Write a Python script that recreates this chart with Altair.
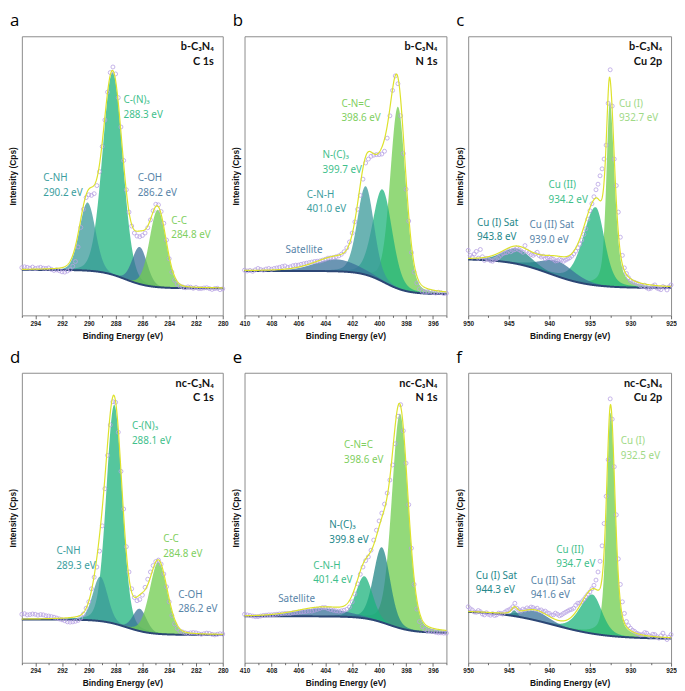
import altair as alt
import numpy as np
import pandas as pd

# ---------------- measured spectra (read off the figure) ----------------
# intensity: arbitrary units, 0 = bottom of plot frame, 100 = top of frame
# energies run from the start value downwards in equal steps
A_START, A_STEP = 295.0, 0.2
A_Y = [17.1, 17.4, 17.2, 16.9, 17.3, 16.8, 17.0, 17.2, 16.9, 16.8,
       17.0, 16.5, 16.1, 16.3, 16.0, 15.6, 15.5, 15.9, 16.4, 17.6,
       19.3, 24.5, 31.5, 38.0, 42.2, 43.2, 43.0, 43.6, 46.5, 51.5,
       60.5, 70.0, 80.0, 87.0, 89.0, 86.5, 78.0, 67.5, 55.5, 45.0,
       37.0, 32.0, 29.5, 28.4, 28.2, 28.6, 29.5, 31.4, 34.2, 37.5,
       39.8, 39.6, 37.2, 33.0, 27.0, 20.3, 15.5, 12.6, 11.2, 10.5,
       10.2, 9.9, 10.2, 10.1, 9.7, 10.0, 9.6, 9.6, 9.8, 9.9,
       9.6, 9.3, 9.6, 9.7, 9.2, 9.5]

B_START, B_STEP = 410.0, 0.2
B_Y = [16.2, 15.9, 16.1, 15.8, 16.3, 16.8, 16.4, 16.2, 16.6, 16.8,
       16.5, 16.8, 17.0, 17.2, 17.5, 17.7, 17.2, 17.4, 17.8, 18.0,
       18.0, 18.3, 18.5, 18.7, 18.9, 19.1, 19.3, 19.4, 19.5, 19.8,
       20.1, 20.5, 20.6, 20.7, 21.0, 21.3, 21.9, 22.8, 24.2, 26.3,
       29.5, 33.5, 38.0, 43.0, 48.8, 54.6, 56.0, 57.0, 57.4, 57.6,
       57.6, 57.8, 58.8, 63.5, 71.5, 80.6, 85.8, 83.0, 71.5, 58.0,
       45.2, 33.8, 22.5, 15.5, 11.6, 9.5, 8.6, 8.4, 8.5, 8.6,
       8.2, 8.0, 8.3, 8.1, 7.8, 7.9]

C_START, C_STEP = 950.0, 0.25
C_Y = [23.3, 21.5, 20.9, 22.0, 22.9, 20.5, 23.6, 21.0, 19.7, 20.4,
       20.1, 19.6, 19.4, 20.0, 20.3, 20.8, 21.5, 22.1, 22.4, 22.5,
       23.2, 22.8, 23.3, 23.5, 24.0, 23.5, 23.1, 22.6, 25.0, 23.0,
       22.5, 21.8, 21.5, 22.0, 22.6, 21.4, 20.9, 21.2, 20.3, 20.6,
       20.9, 20.4, 20.1, 19.5, 19.6, 20.0, 19.8, 19.4, 19.8, 20.2,
       20.6, 21.2, 22.0, 23.0, 24.2, 25.5, 27.0, 29.0, 31.0, 34.5,
       37.5, 40.0, 42.5, 45.0, 47.0, 50.0, 52.5, 56.0, 61.0, 76.0,
       88.0, 75.0, 56.0, 46.5, 37.0, 28.0, 21.5, 17.0, 15.0, 13.5,
       12.5, 12.0, 11.8, 11.5, 11.2, 10.6, 10.3, 10.8, 9.9, 9.5,
       9.7, 10.5, 10.9, 9.8, 9.5, 9.2, 10.3, 10.0, 9.1, 10.2,
       10.9]

D_START, D_STEP = 295.0, 0.2
D_Y = [16.7, 16.9, 16.5, 16.6, 16.8, 16.7, 16.4, 16.6, 16.5, 16.2,
       16.1, 15.9, 15.7, 15.4, 15.1, 14.8, 14.5, 14.1, 14.0, 14.1,
       14.3, 14.6, 15.4, 16.8, 18.8, 21.0, 25.5, 29.5, 33.0, 38.5,
       47.2, 60.0, 71.5, 82.0, 90.0, 89.8, 79.5, 66.0, 53.0, 40.0,
       31.3, 25.5, 22.5, 21.4, 21.8, 23.3, 26.0, 28.8, 31.3, 33.5,
       34.9, 35.4, 34.0, 30.6, 26.2, 21.0, 16.3, 13.4, 11.8, 10.9,
       10.6, 10.3, 10.1, 10.3, 10.4, 10.3, 10.0, 9.8, 10.0, 10.2,
       10.1, 9.8, 9.6, 9.8, 10.0, 9.9]

E_START, E_STEP = 410.0, 0.2
E_Y = [16.7, 16.5, 16.3, 16.1, 15.9, 15.9, 16.1, 16.3, 16.4, 16.5,
       16.5, 16.6, 16.7, 16.8, 16.9, 17.0, 17.0, 17.0, 17.2, 17.3,
       17.4, 17.5, 17.6, 17.7, 17.8, 17.8, 18.1, 18.4, 18.7, 19.0,
       19.0, 18.6, 18.3, 18.1, 17.9, 17.8, 17.9, 18.1, 18.4, 19.2,
       21.0, 23.7, 27.2, 30.5, 33.0, 35.2, 36.5, 38.8, 42.3, 45.7,
       48.9, 51.6, 54.7, 58.5, 63.0, 68.2, 75.5, 85.0, 89.0, 80.0,
       68.8, 54.5, 39.5, 27.0, 18.5, 14.2, 12.5, 11.5, 11.0, 10.9,
       10.8, 10.5, 10.3, 10.3, 10.2, 10.2]

F_START, F_STEP = 950.0, 0.25
F_Y = [19.3, 18.6, 18.2, 17.5, 17.4, 18.0, 17.6, 16.8, 16.5, 17.2,
       16.7, 16.4, 16.9, 16.3, 16.5, 17.1, 17.0, 16.8, 17.4, 17.9,
       18.2, 18.6, 19.3, 20.5, 18.8, 18.2, 17.8, 18.5, 18.2, 18.9,
       18.5, 19.2, 19.0, 18.4, 18.8, 18.0, 18.2, 17.6, 17.8, 17.2,
       17.0, 16.4, 16.5, 17.1, 16.7, 16.2, 16.5, 17.0, 17.4, 17.8,
       18.2, 18.4, 18.8, 19.8, 20.5, 20.6, 21.0, 21.8, 22.7, 23.6,
       24.4, 25.5, 26.7, 28.5, 31.3, 35.0, 40.3, 48.0, 57.4, 70.0,
       91.0, 84.0, 67.6, 51.0, 35.8, 27.0, 21.0, 17.0, 14.2, 12.8,
       11.9, 11.2, 10.8, 10.2, 9.9, 9.6, 9.7, 10.4, 10.2, 9.4,
       9.1, 9.8, 9.7, 9.0, 8.5, 9.3, 10.2, 9.0, 8.0, 8.8,
       9.7]

# ---------------- fitted components ----------------
A_CENTER = [290.1, 288.22, 286.2, 284.85]
A_HEIGHT = [24.4, 72.5, 13.3, 27.7]
A_FW_HI = [1.4, 1.75, 1.3, 1.45]
A_FW_LO = [1.4, 1.75, 1.3, 1.45]
A_ETA = [0.1, 0.1, 0.1, 0.1]
A_BG = [9.7, 16.3, 287.3, 0.9]          # low level, high level, step centre, step width

B_CENTER = [403.2, 401.0, 399.75, 398.6]
B_HEIGHT = [4.3, 31.7, 33.0, 65.2]
B_FW_HI = [3.8, 1.45, 1.7, 1.35]
B_FW_LO = [3.8, 1.45, 1.7, 1.35]
B_ETA = [0.2, 0.2, 0.2, 0.2]
B_BG = [7.6, 15.9, 399.6, 0.85]

C_CENTER = [944.0, 939.0, 934.3, 932.55]
C_HEIGHT = [5.5, 5.5, 28.0, 66.0]
C_FW_HI = [4.2, 5.0, 3.6, 1.0]
C_FW_LO = [4.2, 5.0, 2.6, 1.4]
C_ETA = [0.3, 0.3, 0.3, 0.5]
C_BG = [9.8, 20.2, 940.0, 2.5]

D_CENTER = [289.15, 288.1, 286.2, 284.8]
D_HEIGHT = [15.3, 75.5, 7.7, 24.7]
D_FW_HI = [1.3, 1.38, 1.2, 1.55]
D_FW_LO = [1.3, 1.38, 1.2, 1.55]
D_ETA = [0.15, 0.15, 0.15, 0.15]
D_BG = [9.6, 14.9, 287.2, 0.9]

E_CENTER = [404.3, 401.1, 399.8, 398.45]
E_HEIGHT = [2.8, 14.5, 25.9, 74.0]
E_FW_HI = [4.5, 1.45, 1.45, 1.42]
E_FW_LO = [4.5, 1.45, 1.45, 1.42]
E_ETA = [0.2, 0.2, 0.2, 0.2]
E_BG = [10.3, 16.0, 399.3, 0.9]

F_CENTER = [944.3, 941.7, 934.7, 932.45]
F_HEIGHT = [2.0, 3.2, 13.5, 77.0]
F_FW_HI = [0.8, 4.0, 3.6, 1.15]
F_FW_LO = [0.8, 4.0, 2.8, 1.3]
F_ETA = [0.2, 0.3, 0.3, 0.4]
F_BG = [8.2, 17.9, 939.5, 3.3]

# ---------------- colours ----------------
FILL_LG, FILL_MG, FILL_TL, FILL_TD, FILL_BL = "#6fcc4e", "#1cb37c", "#3a9a9a", "#218585", "#3a729a"
LAB_LG, LAB_LP, LAB_MG, LAB_TL, LAB_TD, LAB_BL = "#7fcf5f", "#a0d986", "#3fbf8c", "#3a9e9e", "#23878a", "#5784a8"

A_FILL = [FILL_TL, FILL_MG, FILL_BL, FILL_LG]
B_FILL = [FILL_BL, FILL_TL, FILL_MG, FILL_LG]
C_FILL = [FILL_TD, FILL_BL, FILL_MG, FILL_LG]
D_FILL = [FILL_TL, FILL_MG, FILL_BL, FILL_LG]
E_FILL = [FILL_BL, FILL_MG, FILL_TD, FILL_LG]
F_FILL = [FILL_TD, FILL_BL, FILL_MG, FILL_LG]

# ---------------- peak labels ----------------
A_LAB_NAME = ["C-NH", "C-(N)₃", "C-OH", "C-C"]
A_LAB_VAL = ["290.2 eV", "288.3 eV", "286.2 eV", "284.8 eV"]
A_LAB_X = [293.4, 287.41, 286.35, 283.84]
A_LAB_Y = [49.1, 77.1, 49.1, 33.9]
A_LAB_COL = [LAB_TL, LAB_MG, LAB_BL, LAB_LG]

B_LAB_NAME = ["C-N=C", "N-(C)₃", "C-N-H", "Satellite"]
B_LAB_VAL = ["398.6 eV", "399.7 eV", "401.0 eV", ""]
B_LAB_X = [402.8, 404.2, 405.37, 406.95]
B_LAB_Y = [75.9, 57.3, 43.1, 23.3]
B_LAB_COL = [LAB_LG, LAB_MG, LAB_TL, LAB_BL]

C_LAB_NAME = ["Cu (I)", "Cu (II)", "Cu (I) Sat", "Cu (II) Sat"]
C_LAB_VAL = ["932.7 eV", "934.2 eV", "943.8 eV", "939.0 eV"]
C_LAB_X = [931.43, 940.1, 948.9, 942.45]
C_LAB_Y = [75.7, 46.6, 33.1, 32.2]
C_LAB_COL = [LAB_LP, LAB_MG, LAB_TD, LAB_BL]

D_LAB_NAME = ["C-(N)₃", "C-NH", "C-C", "C-OH"]
D_LAB_VAL = ["288.1 eV", "289.3 eV", "284.8 eV", "286.2 eV"]
D_LAB_X = [286.78, 292.42, 284.45, 283.33]
D_LAB_Y = [81.5, 38.4, 42.6, 23.3]
D_LAB_COL = [LAB_MG, LAB_TL, LAB_LG, LAB_BL]

E_LAB_NAME = ["C-N=C", "N-(C)₃", "C-N-H", "Satellite"]
E_LAB_VAL = ["398.6 eV", "399.8 eV", "401.4 eV", ""]
E_LAB_X = [402.6, 403.7, 404.9, 407.5]
E_LAB_Y = [75.0, 47.4, 33.5, 21.9]
E_LAB_COL = [LAB_LG, LAB_TD, LAB_MG, LAB_BL]

F_LAB_NAME = ["Cu (I)", "Cu (II)", "Cu (I) Sat", "Cu (II) Sat"]
F_LAB_VAL = ["932.5 eV", "934.7 eV", "944.3 eV", "941.6 eV"]
F_LAB_X = [931.2, 939.15, 949.07, 942.3]
F_LAB_Y = [76.4, 39.0, 29.9, 28.2]
F_LAB_COL = [LAB_LP, LAB_MG, LAB_TD, LAB_BL]

LETTERS = ["a", "b", "c", "d", "e", "f"]
SAMPLES = ["b-C₃N₄", "b-C₃N₄", "b-C₃N₄", "nc-C₃N₄", "nc-C₃N₄", "nc-C₃N₄"]
CORES = ["C 1s", "N 1s", "Cu 2p", "C 1s", "N 1s", "Cu 2p"]

AXIS_FONT = "Liberation Sans"
LABEL_FONT = "Noto Sans"
CORNER_FONT = "Lato, Noto Sans"
BG_COLOR = "#2c4675"
ENV_COLOR = "#dde22c"
PT_COLOR = "#b7a1e3"


def shirley_like(E, low, high, c, s):
    return low + (high - low) / (1.0 + np.exp(-(E - c) / s))


def pvoigt(E, c, h, fhi, flo, eta):
    f = np.where(E >= c, fhi, flo)
    x = (E - c) / f
    return h * ((1 - eta) * np.exp(-4 * np.log(2) * x * x) + eta / (1 + 4 * x * x))


def panel(letter, sample, core, start, step, yvals, centers, heights, fhi, flo, eta, bgp,
          fills, order, lab_name, lab_val, lab_x, lab_y, lab_col, domain, minor, major,
          width, height):
    lo, hi = domain
    grid = np.round(np.arange(lo, hi + 1e-9, 0.02), 3)
    bg = shirley_like(grid, *bgp)
    comps = [pvoigt(grid, centers[k], heights[k], fhi[k], flo[k], eta[k]) for k in range(len(centers))]
    env = bg + np.sum(comps, axis=0)

    tick_vals = list(np.round(np.arange(lo, hi + 1e-9, minor), 2))
    test = f"abs(datum.value / {major} - round(datum.value / {major})) < 0.001"
    xaxis = alt.Axis(values=tick_vals, labelExpr=f"{test} ? datum.label : ''",
                     tickSize={"condition": {"test": test, "value": 3.5}, "value": 2},
                     tickColor="#444", tickWidth=0.8, domain=False, grid=False,
                     labelFont=AXIS_FONT, labelFontWeight="bold", labelFontSize=6.5,
                     labelColor="#222", labelPadding=1.5, labelFlush=False, labelOverlap=False,
                     titleFont=AXIS_FONT, titleFontWeight="bold", titleFontSize=8.5,
                     titleColor="#111", titlePadding=5)
    yaxis = alt.Axis(labels=False, ticks=False, domain=False, grid=False,
                     titleFont=AXIS_FONT, titleFontWeight="bold", titleFontSize=8.5,
                     titleColor="#111", titlePadding=4, minExtent=0)
    xsc = alt.Scale(domain=[lo, hi], reverse=True, nice=False, zero=False)
    ysc = alt.Scale(domain=[0, 100], nice=False, zero=False)

    def X(f):
        return alt.X(f"{f}:Q", scale=xsc, axis=xaxis, title="Binding Energy (eV)")

    def Y(f):
        return alt.Y(f"{f}:Q", scale=ysc, axis=yaxis, title="Intensity (Cps)")

    layers = []
    for k in order:
        m = comps[k] > 0.03
        df = pd.DataFrame({"E": grid[m], "lo": bg[m], "hi": bg[m] + comps[k][m]})
        layers.append(alt.Chart(df).mark_area(color=fills[k], opacity=0.75, strokeWidth=0)
                      .encode(x=X("E"), y=Y("hi"), y2="lo"))

    line_df = pd.DataFrame({"E": grid, "bg": bg, "env": env})
    layers.append(alt.Chart(line_df).mark_line(color=BG_COLOR, strokeWidth=2)
                  .encode(x=X("E"), y=Y("bg")))
    meas = pd.DataFrame({"E": np.round(start - step * np.arange(len(yvals)), 3), "I": yvals})
    layers.append(alt.Chart(meas).mark_point(shape="circle", filled=False, size=16,
                                             color=PT_COLOR, strokeWidth=0.8, opacity=1)
                  .encode(x=X("E"), y=Y("I")))
    layers.append(alt.Chart(line_df).mark_line(color=ENV_COLOR, strokeWidth=1.2)
                  .encode(x=X("E"), y=Y("env")))

    lab = pd.DataFrame({"E": lab_x, "y": lab_y, "name": lab_name, "val": lab_val, "col": lab_col})
    for field, dy in (("name", 0), ("val", 14.5)):
        layers.append(alt.Chart(lab).mark_text(align="left", baseline="middle", font=LABEL_FONT,
                                              fontSize=10, dy=dy)
                      .encode(x=X("E"), y=Y("y"), text=f"{field}:N",
                              color=alt.Color("col:N", scale=None)))

    for txt, yy in ((sample, 11), (core, 26)):
        layers.append(alt.Chart(pd.DataFrame({"t": [txt]})).mark_text(
            align="right", baseline="middle", font=CORNER_FONT, fontWeight="bold",
            fontSize=11, color="#111")
            .encode(x=alt.value(width - 9), y=alt.value(yy), text="t:N"))

    return alt.layer(*layers).properties(
        width=width, height=height,
        title=alt.TitleParams(text=letter, anchor="start", frame="group", font="Open Sans",
                              fontSize=17, fontWeight="normal", color="#000", offset=6, dx=-12))


C1S = dict(domain=(280, 295), minor=1, major=2)
N1S = dict(domain=(395, 410), minor=1, major=2)
CU2P = dict(domain=(925, 950), minor=2.5, major=5)

W1, W2, W3 = 203, 204, 205
H1, H2 = 282, 293

pa = panel("a", SAMPLES[0], CORES[0], A_START, A_STEP, A_Y, A_CENTER, A_HEIGHT, A_FW_HI, A_FW_LO,
           A_ETA, A_BG, A_FILL, [1, 0, 2, 3], A_LAB_NAME, A_LAB_VAL, A_LAB_X, A_LAB_Y, A_LAB_COL,
           width=W1, height=H1, **C1S)
pb = panel("b", SAMPLES[1], CORES[1], B_START, B_STEP, B_Y, B_CENTER, B_HEIGHT, B_FW_HI, B_FW_LO,
           B_ETA, B_BG, B_FILL, [3, 2, 1, 0], B_LAB_NAME, B_LAB_VAL, B_LAB_X, B_LAB_Y, B_LAB_COL,
           width=W2, height=H1, **N1S)
pc = panel("c", SAMPLES[2], CORES[2], C_START, C_STEP, C_Y, C_CENTER, C_HEIGHT, C_FW_HI, C_FW_LO,
           C_ETA, C_BG, C_FILL, [3, 2, 1, 0], C_LAB_NAME, C_LAB_VAL, C_LAB_X, C_LAB_Y, C_LAB_COL,
           width=W3, height=H1, **CU2P)
pd_ = panel("d", SAMPLES[3], CORES[3], D_START, D_STEP, D_Y, D_CENTER, D_HEIGHT, D_FW_HI, D_FW_LO,
            D_ETA, D_BG, D_FILL, [1, 0, 2, 3], D_LAB_NAME, D_LAB_VAL, D_LAB_X, D_LAB_Y, D_LAB_COL,
            width=W1, height=H2, **C1S)
pe = panel("e", SAMPLES[4], CORES[4], E_START, E_STEP, E_Y, E_CENTER, E_HEIGHT, E_FW_HI, E_FW_LO,
           E_ETA, E_BG, E_FILL, [3, 2, 1, 0], E_LAB_NAME, E_LAB_VAL, E_LAB_X, E_LAB_Y, E_LAB_COL,
           width=W2, height=H2, **N1S)
pf = panel("f", SAMPLES[5], CORES[5], F_START, F_STEP, F_Y, F_CENTER, F_HEIGHT, F_FW_HI, F_FW_LO,
           F_ETA, F_BG, F_FILL, [3, 2, 1, 0], F_LAB_NAME, F_LAB_VAL, F_LAB_X, F_LAB_Y, F_LAB_COL,
           width=W3, height=H2, **CU2P)

chart = (alt.concat(pa, pb, pc, pd_, pe, pf, columns=3, bounds="flush",
                    spacing={"row": 58, "column": 22})
         .properties(padding=0, background="white")
         .configure_view(stroke="#8c8c8c", strokeWidth=1))

chart.save("out.html", embed_options={"renderer": "svg", "actions": False})
